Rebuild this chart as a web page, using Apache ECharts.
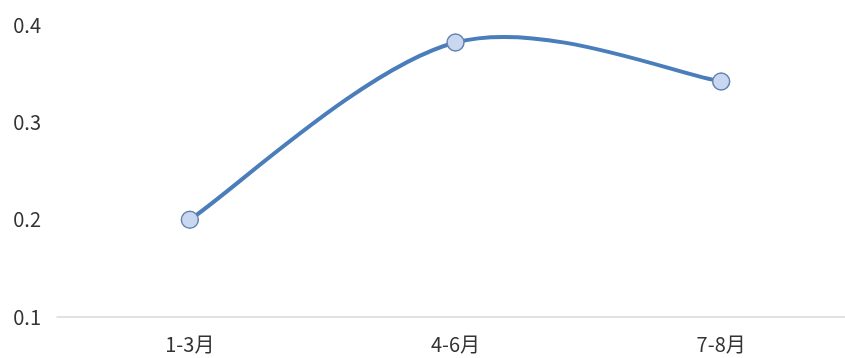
<!DOCTYPE html>
<html>
<head>
<meta charset="utf-8">
<script src="https://cdn.jsdelivr.net/npm/echarts@6/dist/echarts.min.js"></script>
<style>
    html, body { margin: 0; padding: 0; background: #fff; }
    #main { width: 845px; height: 358px; }
</style>
</head>
<body>
<div id="main"></div>
<script>
// 数据
var categories = ['1-3月', '4-6月', '7-8月'];
var values = [0.2, 0.382, 0.342];
var yTicks = [0.1, 0.2, 0.3, 0.4];

(function () {
    var myChart = echarts.init(document.getElementById('main'));

    // Excel 式平滑曲线（Catmull-Rom），每段一条贝塞尔
    function renderCurve(params, api) {
        var i = params.dataIndex;
        var n = values.length;
        if (i >= n - 1) {
            return null;
        }
        var p0 = api.coord([Math.max(i - 1, 0), values[Math.max(i - 1, 0)]]);
        var p1 = api.coord([i, values[i]]);
        var p2 = api.coord([i + 1, values[i + 1]]);
        var p3 = api.coord([Math.min(i + 2, n - 1), values[Math.min(i + 2, n - 1)]]);
        var k = 1 / 6;
        return {
            type: 'bezierCurve',
            shape: {
                x1: p1[0], y1: p1[1],
                x2: p2[0], y2: p2[1],
                cpx1: p1[0] + (p2[0] - p0[0]) * k,
                cpy1: p1[1] + (p2[1] - p0[1]) * k,
                cpx2: p2[0] - (p3[0] - p1[0]) * k,
                cpy2: p2[1] - (p3[1] - p1[1]) * k
            },
            style: {
                fill: null,
                stroke: '#4a7ebb',
                lineWidth: 4,
                lineCap: 'round'
            }
        };
    }

    var option = {
        backgroundColor: '#fff',
        grid: {
            left: 57,
            top: 25,
            width: 797,
            bottom: 41,
            outerBoundsMode: 'none'
        },
        xAxis: {
            type: 'category',
            data: categories,
            boundaryGap: true,
            axisTick: { show: false },
            axisLine: {
                lineStyle: { color: '#d9d9d9', width: 1.5 }
            },
            axisLabel: {
                color: '#333',
                fontSize: 20,
                fontFamily: 'Noto Sans CJK SC',
                margin: 17
            }
        },
        yAxis: {
            type: 'value',
            min: yTicks[0],
            max: yTicks[yTicks.length - 1],
            interval: 0.1,
            axisLine: { show: false },
            axisTick: { show: false },
            splitLine: { show: false },
            axisLabel: {
                color: '#333',
                fontSize: 20,
                fontFamily: 'Noto Sans CJK SC',
                margin: 16,
                formatter: function (v) { return v.toFixed(1); }
            }
        },
        series: [
            {
                type: 'custom',
                renderItem: renderCurve,
                data: values.map(function (v, i) { return [i, v]; }),
                encode: { x: 0, y: 1 },
                silent: true,
                z: 2
            },
            {
                type: 'scatter',
                data: values,
                symbol: 'circle',
                symbolSize: 17,
                itemStyle: {
                    color: '#c9d8f0',
                    borderColor: '#6482b2',
                    borderWidth: 1.5,
                    opacity: 1
                },
                z: 3
            }
        ]
    };
    myChart.setOption(option);
})();
</script>
</body>
</html>
